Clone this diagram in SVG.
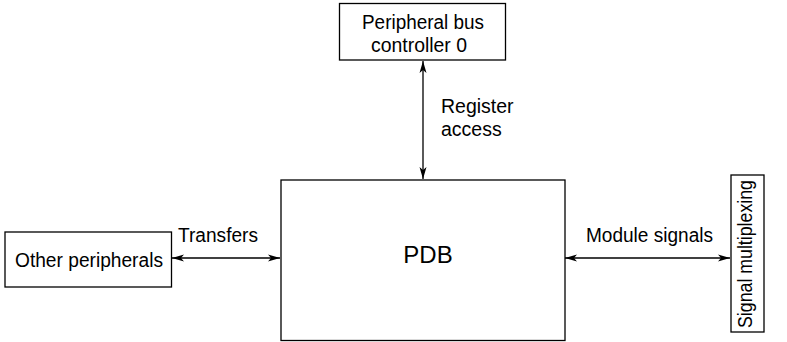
<svg xmlns="http://www.w3.org/2000/svg" width="787" height="342" viewBox="0 0 787 342">
<style>
.box{fill:#fff;stroke:#000;stroke-width:1.3}
.t{font-family:"Liberation Sans",Arial,Helvetica,sans-serif;font-size:19.5px;fill:#000}
.c{stroke:#000;stroke-width:1.3;fill:none;marker-start:url(#ah);marker-end:url(#ah)}
</style>
<defs>
<marker id="ah" viewBox="0 0 12 8" refX="12" refY="4" markerWidth="12" markerHeight="8" markerUnits="userSpaceOnUse" orient="auto-start-reverse">
<path d="M0,0.5 L12,4 L0,7.5 L3,4 Z" fill="#000"/>
</marker>
</defs>
<g id="connectors">
<line class="c" x1="423" y1="61" x2="423" y2="179"/>
<line class="c" x1="172" y1="258" x2="280" y2="258"/>
<line class="c" x1="565" y1="258" x2="730" y2="258"/>
</g>
<g id="pbc0">
<rect class="box" x="339.5" y="3.5" width="166" height="56.5"/>
<text class="t" x="423" y="29" text-anchor="middle" textLength="122" lengthAdjust="spacingAndGlyphs">Peripheral bus</text>
<text class="t" x="419" y="52" text-anchor="middle" textLength="96" lengthAdjust="spacingAndGlyphs">controller 0</text>
</g>
<g id="pdb">
<rect class="box" x="281" y="180" width="284" height="160.5"/>
<text class="t" x="428" y="263" text-anchor="middle" style="font-size:24px">PDB</text>
</g>
<g id="other">
<rect class="box" x="5" y="232" width="166.5" height="55"/>
<text class="t" x="15" y="267" textLength="148" lengthAdjust="spacingAndGlyphs">Other peripherals</text>
</g>
<g id="sigmux">
<rect class="box" x="731" y="175" width="33" height="157"/>
<text class="t" transform="translate(752,254) rotate(-90)" text-anchor="middle" textLength="148" lengthAdjust="spacingAndGlyphs">Signal multiplexing</text>
</g>
<g id="labels">
<text class="t" x="441" y="113">Register</text>
<text class="t" x="441" y="136">access</text>
<text class="t" x="178" y="242" textLength="80" lengthAdjust="spacingAndGlyphs">Transfers</text>
<text class="t" x="586" y="242" textLength="127" lengthAdjust="spacingAndGlyphs">Module signals</text>
</g>
</svg>
